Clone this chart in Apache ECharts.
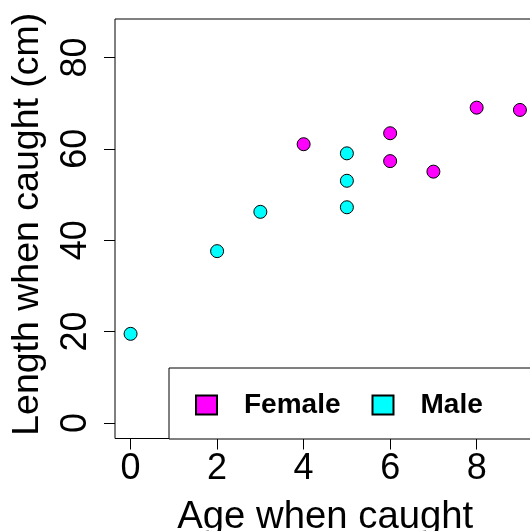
<!DOCTYPE html>
<html>
<head>
<meta charset="utf-8">
<script src="https://cdn.jsdelivr.net/npm/echarts@6/dist/echarts.min.js"></script>
<style>
  html, body { margin: 0; padding: 0; background: #fff; }
  #chart { width: 530px; height: 531px; }
</style>
</head>
<body>
<div id="chart"></div>
<script>
// Fish age and length at capture, split by sex
const femaleAge = [4, 6, 6, 7, 8, 9];
const femaleLength = [61.0, 63.4, 57.3, 55.0, 69.0, 68.5];
const maleAge = [0, 2, 3, 5, 5, 5];
const maleLength = [19.5, 37.6, 46.2, 59.0, 53.0, 47.2];
const xTicks = [0, 2, 4, 6, 8];
const yTicks = [0, 20, 40, 60, 80];
const seriesNames = ['Female', 'Male'];

const FONT = '"Liberation Sans", Arial, Helvetica, sans-serif';

function pairs(xs, ys) {
  return xs.map((x, i) => [x, ys[i]]);
}

const chart = echarts.init(document.getElementById('chart'), null, { renderer: 'canvas' });

chart.setOption({
  animation: false,
  backgroundColor: '#ffffff',
  grid: {
    left: 115,
    top: 19,
    width: 420.5,
    height: 419.5,
    outerBoundsMode: 'none',
    containLabel: false,
    show: true,
    borderColor: '#000',
    borderWidth: 1,
    backgroundColor: 'transparent'
  },
  // legend frame, open on the right where it runs past the page edge
  graphic: [
    {
      type: 'rect',
      left: 168.5,
      top: 367.5,
      shape: { width: 420, height: 71 },
      style: { fill: '#fff', stroke: '#000', lineWidth: 1 },
      z: 5
    }
  ],
  xAxis: {
    type: 'value',
    min: -0.36,
    max: 9.36,
    name: 'Age when caught',
    nameLocation: 'middle',
    nameGap: 60,
    nameTextStyle: { fontFamily: FONT, fontSize: 38.3, color: '#000' },
    axisLine: { show: false, onZero: false },
    splitLine: { show: false },
    axisTick: {
      show: true,
      inside: false,
      length: 11,
      customValues: xTicks,
      lineStyle: { color: '#000', width: 1 }
    },
    axisLabel: {
      customValues: xTicks,
      fontFamily: FONT,
      fontSize: 36,
      color: '#000',
      margin: 13
    }
  },
  yAxis: {
    type: 'value',
    min: -3.4,
    max: 88.4,
    name: 'Length when caught (cm)',
    nameLocation: 'middle',
    nameRotate: 90,
    nameGap: 68,
    nameTextStyle: {
      fontFamily: FONT,
      fontSize: 37.5,
      color: '#000',
      padding: [0, 0, 0, 9]
    },
    axisLine: { show: false, onZero: false },
    splitLine: { show: false },
    axisTick: {
      show: true,
      inside: false,
      length: 11,
      customValues: yTicks,
      lineStyle: { color: '#000', width: 1 }
    },
    axisLabel: {
      customValues: yTicks,
      rotate: 90,
      fontFamily: FONT,
      fontSize: 36,
      color: '#000',
      margin: 21
    }
  },
  legend: {
    data: seriesNames,
    orient: 'horizontal',
    left: 168,
    top: 367,
    icon: 'rect',
    itemWidth: 21,
    itemHeight: 19,
    itemGap: 31,
    padding: [24, 10, 24, 27],
    z: 6,
    textStyle: {
      fontFamily: FONT,
      fontSize: 28,
      fontWeight: 'bold',
      color: '#000',
      padding: [0, 0, 0, 22]
    }
  },
  series: [
    {
      name: seriesNames[0],
      type: 'scatter',
      symbol: 'circle',
      symbolSize: 13,
      itemStyle: { color: '#FF00FF', borderColor: '#000', borderWidth: 1, opacity: 1 },
      data: pairs(femaleAge, femaleLength)
    },
    {
      name: seriesNames[1],
      type: 'scatter',
      symbol: 'circle',
      symbolSize: 13,
      itemStyle: { color: '#00FFFF', borderColor: '#000', borderWidth: 1, opacity: 1 },
      data: pairs(maleAge, maleLength)
    }
  ]
});
</script>
</body>
</html>
